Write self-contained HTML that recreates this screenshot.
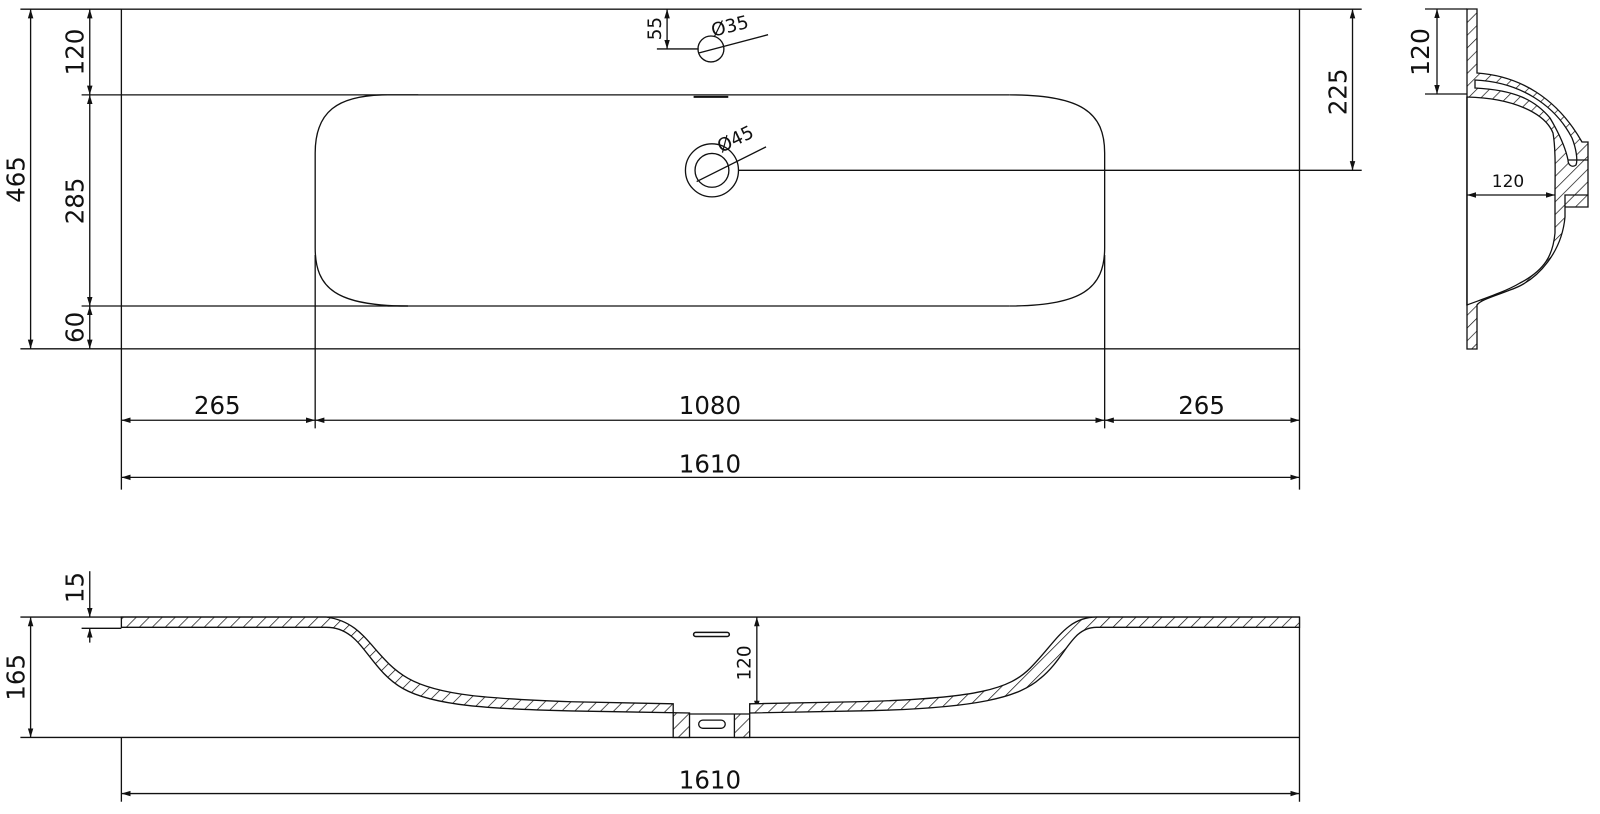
<!DOCTYPE html>
<html><head><style>
html,body{margin:0;padding:0;background:#fff;}
svg{display:block;}
text{font-family:"DejaVu Sans","Liberation Sans",sans-serif;fill:#111;}
</style></head><body>
<svg width="1600" height="814" viewBox="0 0 1600 814" xmlns="http://www.w3.org/2000/svg">
<defs>
<pattern id="h" width="9" height="9" patternUnits="userSpaceOnUse" patternTransform="rotate(45)">
<rect width="9" height="9" fill="#fff"/><line x1="0" y1="0" x2="0" y2="9" stroke="#111" stroke-width="1.4"/>
</pattern>
<marker id="a" viewBox="0 0 10 10" refX="10" refY="5" markerWidth="9" markerHeight="9" orient="auto-start-reverse" markerUnits="userSpaceOnUse"><path d="M0,2 L10,5 L0,8 z" fill="#111"/></marker>
</defs>
<g transform="scale(1.02)">
<g stroke="#111" stroke-width="1.3" fill="none">
<rect x="119" y="9" width="1155" height="333"/>
<path d="M380,93 H990 M380,300 H990"/>
<path d="M380,93 C330,93 309,110 309,150 V243 C309,283 330,300 400,300 M990,93 C1060,93 1083,110 1083,150 V243 C1083,283 1060,300 990,300"/>
<line x1="680" y1="95" x2="714" y2="95" stroke-width="2"/>
<circle cx="697" cy="48" r="12.7"/>
<circle cx="698" cy="167" r="26"/><circle cx="698" cy="167" r="16.6"/>
<line x1="644" y1="48" x2="685" y2="48"/>
<line x1="685" y1="52" x2="753" y2="34"/>
<line x1="683" y1="178" x2="751" y2="144"/>
<line x1="724" y1="167" x2="1335" y2="167"/>
<line x1="654" y1="9" x2="654" y2="48" marker-start="url(#a)" marker-end="url(#a)"/>
<line x1="20" y1="9" x2="119" y2="9"/><line x1="20" y1="342" x2="119" y2="342"/>
<line x1="80" y1="93" x2="410" y2="93"/><line x1="80" y1="300" x2="400" y2="300"/>
<line x1="30" y1="9" x2="30" y2="342" marker-start="url(#a)" marker-end="url(#a)"/>
<line x1="88" y1="9" x2="88" y2="93" marker-start="url(#a)" marker-end="url(#a)"/>
<line x1="88" y1="93" x2="88" y2="300" marker-start="url(#a)" marker-end="url(#a)"/>
<line x1="88" y1="300" x2="88" y2="342" marker-start="url(#a)" marker-end="url(#a)"/>
<line x1="1274" y1="9" x2="1335" y2="9"/>
<line x1="1326" y1="9" x2="1326" y2="167" marker-start="url(#a)" marker-end="url(#a)"/>
<line x1="119" y1="342" x2="119" y2="480"/><line x1="1274" y1="342" x2="1274" y2="480"/>
<line x1="309" y1="250" x2="309" y2="420"/><line x1="1083" y1="250" x2="1083" y2="420"/>
<line x1="119" y1="412" x2="309" y2="412" marker-start="url(#a)" marker-end="url(#a)"/>
<line x1="309" y1="412" x2="1083" y2="412" marker-start="url(#a)" marker-end="url(#a)"/>
<line x1="1083" y1="412" x2="1274" y2="412" marker-start="url(#a)" marker-end="url(#a)"/>
<line x1="119" y1="468" x2="1274" y2="468" marker-start="url(#a)" marker-end="url(#a)"/>
<line x1="119" y1="605" x2="1274" y2="605"/>
<line x1="20" y1="605" x2="119" y2="605"/>
<line x1="80" y1="616" x2="119" y2="616"/>
<line x1="20" y1="723" x2="1274" y2="723"/>
<line x1="119" y1="723" x2="119" y2="786"/><line x1="1274" y1="605" x2="1274" y2="786"/>
<line x1="30" y1="605" x2="30" y2="723" marker-start="url(#a)" marker-end="url(#a)"/>
<line x1="88" y1="560" x2="88" y2="605" marker-end="url(#a)"/>
<line x1="88" y1="630" x2="88" y2="616" marker-end="url(#a)"/>
<line x1="742" y1="605" x2="742" y2="696" marker-start="url(#a)" marker-end="url(#a)"/>
<line x1="119" y1="778" x2="1274" y2="778" marker-start="url(#a)" marker-end="url(#a)"/>
<path fill="url(#h)" d="M119,605 H320 C360,610 365,645 400,665 C430,682 480,685 560,688 L660,690 V723 H676 V700 H720 V723 H735 V690 L840,688 C960,685 990,675 1010,655 C1035,630 1045,605 1075,605 H1274 V615 H1075 C1050,615 1045,645 1020,665 C1000,683 960,695 840,697 L735,699 V700 L676,700 V699 L560,697 C480,695 425,692 395,675 C360,655 355,615 320,615 H119 Z"/>
<rect x="685" y="706" width="26" height="8" rx="4"/>
<rect x="680" y="620" width="35" height="4" rx="2" stroke-width="1.5"/>
</g>
<g font-size="24">
<text x="213" y="406" text-anchor="middle">265</text>
<text x="696" y="406" text-anchor="middle">1080</text>
<text x="1178" y="406" text-anchor="middle">265</text>
<text x="696" y="463" text-anchor="middle">1610</text>
<text x="696" y="773" text-anchor="middle">1610</text>
<text transform="translate(24,176) rotate(-90)" text-anchor="middle">465</text>
<text transform="translate(82,51) rotate(-90)" text-anchor="middle">120</text>
<text transform="translate(82,197) rotate(-90)" text-anchor="middle">285</text>
<text transform="translate(82,321) rotate(-90)" text-anchor="middle">60</text>
<text transform="translate(1320,90) rotate(-90)" text-anchor="middle">225</text>
<text transform="translate(24,664) rotate(-90)" text-anchor="middle">165</text>
<text transform="translate(82,576) rotate(-90)" text-anchor="middle">15</text>
</g>
<g font-size="18">
<text transform="translate(648,28) rotate(-90)" text-anchor="middle">55</text>
<text transform="translate(699,36) rotate(-14)">Ø35</text>
<text transform="translate(707,150) rotate(-26)">Ø45</text>
<text transform="translate(736,650) rotate(-90)" text-anchor="middle">120</text>
</g>
</g>
<g stroke="#111" stroke-width="1.3" fill="none">
<line x1="1425" y1="9" x2="1467" y2="9"/><line x1="1425" y1="94" x2="1467" y2="94"/>
<line x1="1437" y1="9" x2="1437" y2="94" marker-start="url(#a)" marker-end="url(#a)"/>
<path fill="url(#h)" d="M1467,9 H1477 V73 C1520,76 1557,98 1582,142 H1588 V207 H1565 V217 C1562,250 1540,280 1510,290 C1495,296 1480,300 1477,305 V349 H1467 Z"/>
<path fill="#fff" d="M1467,97 C1513,98 1545,113 1553,133 C1556,150 1555,175 1555,197 V233 C1553,255 1545,270 1520,283 C1505,292 1480,300 1467,305 Z"/>
<path d="M1467,97 V305"/>
<path fill="#fff" d="M1475,80 C1520,82 1555,105 1572,138 C1576,148 1578,160 1576,165 C1572,168 1568,165 1568,160 C1566,150 1560,135 1550,118 C1535,100 1515,90 1475,88 Z"/>
<path d="M1568,160 H1588 M1565,207 V195 H1588"/>
<line x1="1467" y1="195" x2="1555" y2="195" marker-start="url(#a)" marker-end="url(#a)"/>
</g>
<text transform="translate(1429,52) rotate(-90)" text-anchor="middle" font-size="25">120</text>
<text x="1508" y="187" text-anchor="middle" font-size="17">120</text>
</svg>
</body></html>
